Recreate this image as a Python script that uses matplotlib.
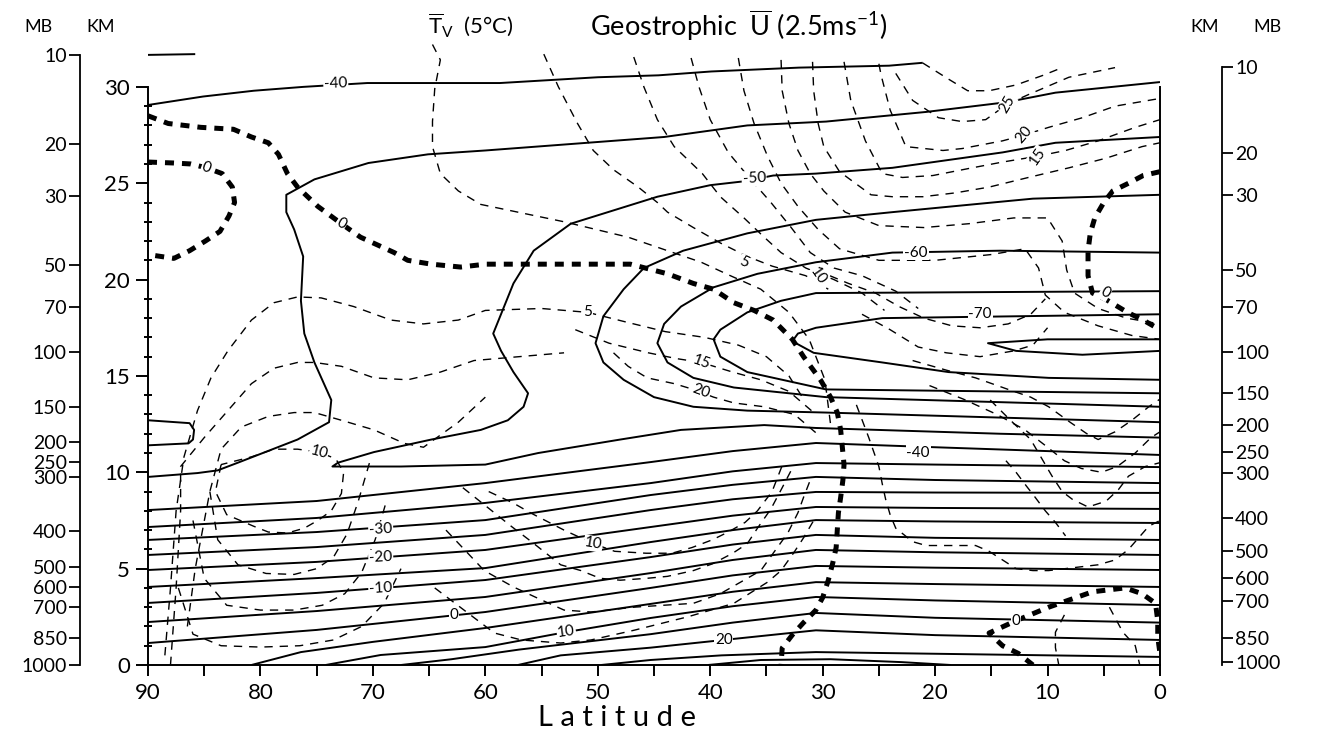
import matplotlib.pyplot as plt

plt.rcParams['font.family'] = ['Lato', 'DejaVu Sans']
plt.rcParams['mathtext.fontset'] = 'custom'
plt.rcParams['mathtext.rm'] = 'Lato'

# side pressure scales: label and height (km) where it sits
mb_labels = ['10', '20', '30', '50', '70', '100', '150', '200', '250', '300',
             '400', '500', '600', '700', '850', '1000']
mb_km_left = [31.66, 27.04, 24.34, 20.76, 18.58, 16.24, 13.39, 11.57, 10.53, 9.76,
              6.95, 5.08, 4.05, 3.01, 1.40, 0.0]
mb_km_right = [31.03, 26.57, 24.39, 20.5, 18.58, 16.24, 14.11, 12.45, 11.05, 9.96,
               7.63, 5.92, 4.51, 3.32, 1.40, 0.16]

# ---- isotherms of Tv (solid), points are (latitude, km)
t_stub = [(90, 31.66), (85.8, 31.7)]
t_top = [(90, 29.06), (85.1, 29.5), (80.6, 29.8), (76.2, 30.0), (70.5, 30.2), (58.7, 30.2),
         (50, 30.5), (44.6, 30.6), (39.9, 30.8), (32.1, 31.0), (28.1, 31.05), (24.1, 31.1),
         (21.1, 31.25)]
t_s1 = [(90, 9.76), (85.6, 9.96), (83.8, 10.1), (82.0, 10.5), (76.7, 11.7), (73.9, 12.6),
        (73.7, 13.75), (75.2, 15.7), (76.1, 17.2), (76.4, 18.9), (76.2, 21.2), (77.0, 22.6),
        (77.7, 23.5), (77.7, 24.4), (75.2, 25.2), (70.4, 26.05), (65.1, 26.5), (60, 26.7),
        (44.1, 27.4), (36.7, 28.0), (29.7, 28.2), (20.8, 28.7), (13.7, 29.2), (9.3, 29.7),
        (0, 30.25)]
t_s2 = [(0, 27.4), (9.3, 27.1), (14.0, 26.6), (23.8, 25.8), (30.6, 25.5), (34.4, 25.4),
        (37.0, 25.1), (40.0, 24.9), (44.7, 24.3), (52.4, 22.9), (55.7, 21.5), (57.5, 19.8),
        (59.3, 17.2), (58.6, 16.3), (57.5, 15.2), (56.2, 14.1), (56.6, 13.4), (58.0, 12.7),
        (60.4, 12.2), (64.8, 11.7), (69.9, 11.05), (73.1, 10.5), (73.6, 10.3), (67.5, 10.3),
        (60, 10.4), (55.3, 11.0), (48, 11.7), (42.6, 12.2), (35.2, 12.45), (30.6, 12.3),
        (14.2, 12.0), (0, 11.8)]
t_m55 = [(0, 24.4), (11.3, 24.2), (14.9, 24.0), (23.8, 23.5), (30.6, 23.1), (36.7, 22.4),
         (42.4, 21.5), (45.9, 20.6), (47.7, 19.5), (49.5, 18.1), (50.2, 16.7), (49.5, 15.7),
         (47.7, 14.8), (45.0, 13.9), (41.5, 13.4), (36.7, 13.2), (29.7, 13.1), (0, 12.6)]
t_m60 = [(0, 21.4), (14.2, 21.5), (23.8, 21.4), (30.6, 20.9), (35.8, 20.3), (39.7, 19.6),
         (42.6, 18.6), (44.1, 17.7), (44.7, 16.7), (43.8, 15.7), (41.5, 14.9), (37.9, 14.4),
         (29.7, 13.9), (0, 13.4)]
t_m65 = [(0, 19.4), (30.6, 19.3), (33.7, 18.9), (36.7, 18.3), (39.1, 17.4), (39.7, 16.9),
         (39.1, 16.0), (36.7, 15.2), (29.7, 14.3), (0, 14.1)]
t_m70 = [(0, 18.2), (24.7, 18.0), (30.6, 17.5), (32.2, 17.2), (32.7, 16.8), (30.8, 16.2),
         (24.7, 15.7), (18.8, 15.2), (9.9, 14.9), (0, 14.8)]
t_lens = [(0, 16.9), (10.0, 16.9), (15.3, 16.7), (12.8, 16.3), (6.9, 16.1), (0, 16.3)]
t_loop = [(90, 12.7), (86.3, 12.55), (85.9, 12.2), (86.0, 11.7), (86.4, 11.5), (90, 11.4)]

# tropospheric isotherms at 90, 75, 60, 45.3, 38, 30.6, 20 and 0 deg
trop_lat = [90, 75, 60, 45.3, 38, 30.6, 20, 0]
t_m40 = [8.04, 8.51, 9.44, 10.53, 11.1, 11.52, 11.3, 10.9]
t_m35 = [7.16, 7.63, 8.41, 9.44, 10.05, 10.48, 10.4, 10.27]
t_m30 = [6.49, 6.9, 7.52, 8.82, 9.35, 9.76, 9.6, 9.44]
t_m25 = [5.71, 6.12, 6.75, 8.04, 8.6, 8.98, 8.95, 8.93]
t_m20 = [4.93, 5.35, 5.97, 7.16, 7.75, 8.2, 8.15, 8.1]
t_m15 = [4.05, 4.51, 5.03, 6.38, 7.0, 7.52, 7.45, 7.37]
t_m10 = [3.22, 3.74, 4.41, 5.6, 6.25, 6.75, 6.6, 6.49]
t_m5 = [2.23, 2.8, 3.53, 4.77, 5.45, 5.97, 5.85, 5.71]
t_0 = [1.14, 1.82, 2.75, 4.0, 4.65, 5.14, 5.05, 4.93]

t_p5 = [(80.8, 0), (76.4, 0.67), (70, 1.2), (60, 1.92), (45.3, 3.17), (38, 3.8), (30.6, 4.3),
        (20, 4.2), (0, 4.05)]
t_p10 = [(74.2, 0), (69.3, 0.52), (60, 0.93), (52.8, 1.71), (45.3, 2.44), (38, 3.05),
         (30.6, 3.53), (20, 3.35), (0, 3.11)]
t_p15 = [(67.5, 0), (63, 0.3), (57, 0.8), (45.3, 1.6), (38, 2.2), (30.6, 2.7), (20, 2.45),
         (0, 2.2)]
t_p20 = [(57.1, 0), (53.3, 0.5), (45.3, 0.9), (38.8, 1.3), (30.6, 1.8), (20, 1.55), (0, 1.3)]
t_p25 = [(49.7, 0), (45.3, 0.26), (39, 0.5), (30.6, 0.67), (0, 0.42)]
t_p30 = [(40.2, 0), (35.5, 0.26), (29.3, 0.3), (23, 0.15), (18.6, 0)]

# ---- zero line of geostrophic U (heavy dashes)
u0_main = [(90, 28.5), (88.2, 28.1), (85.3, 27.9), (82.4, 27.8), (80.8, 27.4), (79.3, 27.1),
           (78.4, 26.5), (77.6, 25.5), (76.7, 24.8), (74.9, 23.8), (72.8, 22.9), (71.1, 22.2),
           (68.1, 21.4), (66.9, 21.0), (64.8, 20.8), (62.2, 20.65), (60, 20.8), (47.1, 20.8),
           (43.8, 20.3), (41.5, 19.8), (39.7, 19.5), (37.9, 18.8), (36.1, 18.4), (34.4, 17.9),
           (32.7, 16.9), (31.7, 16.0), (30.2, 14.8), (29.3, 13.9), (28.7, 13.1), (28.4, 12.2),
           (28.1, 10.4), (28.2, 9.6), (28.4, 8.7), (28.6, 7.9), (28.8, 6.1), (29.1, 5.3),
           (29.5, 4.4), (30, 3.5), (30.6, 2.85), (31.7, 2.2), (32.7, 1.56), (33.6, 0.88),
           (33.7, 0)]
u0_loop = [(90, 26.1), (87.7, 26.05), (86.2, 26.0), (84.8, 25.8), (83.4, 25.5), (82.5, 24.8),
           (82.3, 24.0), (82.8, 23.3), (83.6, 22.5), (84.9, 22.0), (86.3, 21.5), (87.7, 21.1),
           (90, 21.3)]
u0_eq_top = [(0, 25.6), (1.5, 25.4), (2.8, 25.0), (4.2, 24.6), (5.0, 24.0), (5.8, 23.2),
             (6.2, 22.4), (6.4, 21.5), (6.4, 20.2), (6.0, 19.3), (4.9, 19.0), (2.9, 18.3),
             (1.5, 17.9), (0, 17.4)]
u0_eq_low = [(11.3, 0), (12.6, 0.6), (14.0, 1.0), (15.2, 1.66), (12.8, 2.3), (9.9, 3.0),
             (6.0, 3.8), (3.1, 4.0), (1.6, 3.7), (0.4, 3.2), (0.2, 2.3), (0.2, 1.45), (0, 0.6)]

# ---- other isotachs of U (thin dashes)
u_a = [(54.8, 31.7), (53.5, 30.0), (51.8, 28.1), (50.4, 26.7), (48.6, 25.7), (46.4, 24.8),
       (44.7, 24.0), (43.8, 23.5), (41.5, 22.7), (39.1, 21.9), (36.7, 21.2), (34.5, 20.7),
       (31.5, 20.2), (29.5, 19.5)]
u_b = [(64.7, 32.2), (64.0, 31.4), (64.5, 29.9), (64.7, 28.2), (64.7, 26.9), (64.0, 25.5),
       (62.4, 24.6), (60.4, 23.9), (53.0, 23.0), (47.3, 22.2), (43.8, 21.5), (40.8, 20.9),
       (38.2, 20.2), (35.5, 19.5), (33.0, 18.3), (31.2, 16.9), (29.8, 14.8), (29.3, 12.5)]
u_c = [(46.8, 31.55), (45.9, 30.0), (44.7, 28.3), (43.2, 26.9), (40.7, 25.5), (39.1, 24.3),
       (37.0, 23.2), (35.2, 22.2), (33.7, 21.4), (31.5, 20.6), (29.0, 20.0), (26.5, 19.3),
       (24.5, 18.4)]
u_d = [(41.7, 31.5), (41.0, 30.0), (40.0, 28.3), (38.4, 26.6), (36.4, 25.2), (34.6, 24.0),
       (32.8, 22.7), (31.1, 21.4), (29.0, 20.6), (26.5, 20.2), (23.5, 19.4), (21.5, 18.5)]
u_e = [(37.5, 31.5), (37.0, 29.8), (36.1, 28.1), (34.9, 26.4), (33.7, 25.0), (32.2, 23.8),
       (30.4, 22.6), (28.5, 21.6), (25, 21.0), (20, 21.0), (15, 21.3), (12, 21.6),
       (10.8, 20.6), (10.2, 19.2), (8.5, 18.3), (5.5, 17.6), (2.5, 17.1), (0, 16.9)]
u_f = [(33.7, 31.4), (33.6, 29.8), (33.0, 28.1), (32.2, 26.7), (31.1, 25.5), (29.9, 24.6),
       (28.0, 23.5), (25, 22.8), (21, 22.7), (17, 22.9), (13, 23.2), (10, 23.2),
       (8.7, 22.0), (8.3, 20.5), (7.6, 19.3), (5.5, 18.5), (3, 18.0), (0, 17.7)]
u_g = [(30.9, 31.3), (30.8, 29.8), (30.4, 28.1), (29.9, 26.9), (28.5, 25.6), (25.7, 24.4),
       (23.8, 24.3), (21.1, 24.3), (18.2, 24.5), (15.2, 24.8), (11.7, 25.3), (8.1, 25.8),
       (4.8, 26.3), (1.6, 26.9), (0, 27.1)]
u_h = [(28.1, 31.3), (27.5, 29.3), (26.2, 27.2), (24.7, 25.5), (22.9, 25.3), (20.2, 25.4),
       (16.7, 25.8), (14.0, 26.1), (10.9, 26.4), (8.4, 26.7), (5.5, 27.2), (2.2, 27.9),
       (0, 28.3)]
u_i = [(25.0, 31.2), (24.8, 30.6), (24.0, 28.8), (22.6, 26.9), (19.3, 26.7), (17.6, 26.8),
       (14.0, 27.2), (12.1, 27.5), (9.9, 27.9), (6.9, 28.4), (4.0, 29.0), (1.0, 29.3),
       (0, 29.4)]
u_top1 = [(21.1, 31.24), (18.8, 30.4), (17.1, 29.8), (15.2, 29.8), (12.8, 30.1), (10.4, 30.6),
          (8.7, 31.0)]
u_top2 = [(23.5, 30.7), (22.0, 29.3), (19.7, 28.4), (17.6, 28.2), (15.5, 28.3), (13.6, 29.1),
          (11.7, 29.6), (8.1, 30.5), (4.0, 31.0)]

# tropical easterly jet
u_tej = [(26.5, 18.2), (24.0, 17.4), (21.5, 16.5), (19.0, 16.2), (16.0, 16.0), (13.0, 16.3),
         (11.3, 16.6), (10.0, 17.5)]
u_tej1 = [(30.6, 20.5), (27.7, 19.8), (25.3, 19.3), (23.2, 18.6), (21.0, 18.0), (18.5, 17.6),
          (16.0, 17.5), (13.5, 17.7), (11.5, 18.2), (10.2, 19.0)]
u_tej2 = [(22.0, 15.8), (19.0, 15.3), (16.4, 14.9), (13.5, 14.3), (11.5, 13.9), (9.9, 13.4),
          (8.0, 12.6), (6.5, 12.0), (5.5, 11.7), (4.0, 12.1), (2.5, 12.7), (1.0, 13.4),
          (0, 13.8)]
u_tej3 = [(20.5, 14.5), (17.5, 13.8), (14.5, 13.0), (12.0, 12.2), (10.0, 11.3), (8.5, 10.6),
          (7.0, 10.2), (5.2, 10.0), (3.8, 10.3), (2.2, 11.0), (0.8, 11.8), (0, 12.1)]

# polar westerlies
u_p1 = [(88.5, 0.5), (88.0, 4), (87.5, 8), (86.8, 10.8), (85.6, 13.2), (84.4, 14.9),
        (82.9, 16.3), (80.8, 17.9), (78.8, 18.8), (76.7, 19.1), (74.6, 19.05), (71.7, 18.6),
        (68.4, 17.9), (65.5, 17.7), (62.4, 17.9), (60, 18.4), (55, 18.5), (50.9, 18.3),
        (47.5, 17.8), (44, 17.3), (40.5, 17.0), (37.5, 16.6), (35, 16.0), (33, 15.0),
        (31.7, 13.8)]
u_p2 = [(88.0, 0), (87.5, 4), (87.1, 8), (87.1, 10.3), (85, 11.8), (82.9, 13.2), (80.8, 14.6),
        (78.8, 15.4), (76.7, 15.7), (75.2, 15.7), (72.8, 15.5), (69.9, 14.9), (66.9, 14.8),
        (64, 15.2), (61, 15.8), (57, 16.0), (53, 16.2)]
u_p3 = [(86.5, 2.0), (85.8, 5.0), (84.5, 9), (83.5, 11.2), (81.7, 12.35), (79.3, 12.9),
        (77, 13.1), (75.2, 13.1), (72.8, 12.7), (69.9, 12.2), (67.2, 11.5), (65.5, 11.3),
        (62.4, 12.6), (60, 13.9)]
u_p10 = [(83.5, 10.4), (84.0, 9.0), (83.0, 7.8), (80.6, 7.2), (79.3, 6.9), (77.6, 6.85),
         (76.1, 7.1), (74.9, 7.5), (73.7, 8.0), (72.8, 8.9), (72.6, 10.0), (73.3, 10.7),
         (74.8, 11.05), (76.7, 11.2), (78.8, 11.2), (80.8, 10.8), (83.5, 10.4)]
u_pu2 = [(84.5, 9.0), (83.8, 6.5), (82.0, 5.2), (79.5, 4.75), (77.0, 4.7), (75.0, 5.0),
         (73.5, 5.6), (72.3, 6.8), (71.3, 8.5), (70.3, 10.5)]
u_pu3 = [(86.0, 7.5), (85.0, 4.5), (83.0, 3.1), (80.0, 2.85), (77.0, 2.85), (74.5, 3.1),
         (72.5, 3.7), (71.0, 4.8), (69.8, 6.5), (68.8, 8.5)]
u_pu4 = [(87.3, 4.0), (86.0, 1.6), (83.5, 1.0), (80.0, 0.93), (76.5, 1.0), (73.5, 1.3),
         (71.0, 2.0), (69.0, 3.2), (67.5, 5.0)]

# subtropical jet
u_j20 = [(48.6, 16.2), (47.3, 15.5), (45.6, 14.9), (43.2, 14.6), (41.5, 14.3), (39.7, 13.9),
         (37.9, 13.6), (35.2, 13.4), (32.5, 13.0), (30.5, 12.0)]
u_j15 = [(52.0, 17.4), (49.0, 16.7), (45.5, 16.2), (43, 15.9), (40.8, 15.7), (38, 15.2),
         (35.5, 14.8), (33, 14.2), (31, 13.2)]
u_ju10 = [(59.7, 9.0), (57.5, 8.4), (56.0, 7.9), (53, 7.0), (50.4, 6.3), (48.5, 5.9),
          (45.7, 5.8), (43.4, 5.8), (41.6, 6.1), (39.8, 6.5), (38.4, 6.9), (36.9, 7.4),
          (35.8, 8.0), (34.5, 9.0), (33.5, 10.5)]
u_ju7 = [(62.0, 9.2), (59.2, 7.9), (57.7, 7.2), (55.9, 6.4), (53.3, 5.2), (51.5, 4.9),
         (49.8, 4.5), (48, 4.4), (45.6, 4.5), (43.8, 4.6), (41.5, 4.9), (39.8, 5.25),
         (38, 5.8), (36.7, 6.3), (35.8, 7.1), (34.6, 8.1), (33.6, 9.2), (32.8, 10.1)]
u_ju5 = [(63.5, 7.0), (60.1, 4.9), (57.5, 4.05), (55.1, 3.4), (53, 2.85), (50.6, 2.75),
         (46.8, 3.0), (41.5, 3.2), (39.1, 3.7), (37.3, 4.3), (35.5, 4.9), (34.4, 5.8),
         (33.1, 6.85), (32.2, 7.9), (31.7, 8.7), (31.1, 9.6)]
u_ju2 = [(64.5, 4.0), (59.2, 1.66), (56.8, 1.3), (53.3, 1.14), (50.6, 1.3), (46.8, 1.8),
         (42, 2.5), (37.9, 3.2), (34.9, 4.3), (33.7, 4.9), (32.6, 5.8), (31.7, 6.6),
         (30.8, 7.5)]

# tropical troposphere
u_t1 = [(27.0, 13.5), (25.9, 11.8), (25.0, 10.3), (24.7, 9.4), (24.4, 8.6), (24.0, 7.8),
        (23.5, 7.1), (22.0, 6.4), (20.8, 6.2), (19.3, 6.2), (17.9, 6.2), (16.4, 6.2),
        (15.2, 5.9), (14.0, 5.45), (12.8, 5.0), (11.3, 4.9), (9.9, 4.9), (5.5, 5.2),
        (4.0, 5.45), (2.8, 6.0), (1.9, 6.6), (1.0, 7.2), (0, 7.5)]
u_t2 = [(15.1, 13.75), (13.3, 12.7), (11.5, 11.7), (10.4, 10.6), (9.6, 9.8), (8.7, 9.0),
        (7.8, 8.6), (6.4, 8.2), (4.8, 8.5), (3.7, 9.1), (2.8, 9.8), (1.3, 10.3), (0, 10.5)]
u_t3 = [(13.7, 10.6), (12.8, 10.0), (11.9, 9.3), (11.1, 8.7), (10.2, 8.0), (9.3, 7.4),
        (8.4, 6.7)]
u_z4a = [(8.5, 2.6), (9.3, 1.7), (9.3, 0.9), (9.0, 0)]
u_z4b = [(4.5, 3.0), (3.3, 1.7), (2.2, 1.0), (1.8, 0)]

# contour labels: text, latitude, km, rotation
t_labels = [('-40', 73.3, 30.15, 2), ('-50', 36.1, 25.25, 3), ('-60', 21.7, 21.4, 0),
            ('-70', 16.0, 18.2, 0), ('-40', 21.5, 11.0, 0), ('-30', 69.3, 7.05, 3),
            ('-20', 69.3, 5.6, 3), ('-10', 69.3, 4.0, 3), ('0', 62.8, 2.6, 0),
            ('10', 52.8, 1.71, 8), ('20', 38.8, 1.3, 0)]
u_labels = [('0', 72.8, 22.9, -30), ('0', 84.8, 25.8, -20), ('0', 4.9, 19.3, -30),
            ('0', 12.8, 2.3, 0), ('5', 50.9, 18.3, 0), ('5', 37.0, 20.9, -25),
            ('10', 30.4, 20.2, -55), ('15', 40.8, 15.7, -20), ('20', 40.8, 14.2, -20),
            ('25', 13.6, 29.1, 60), ('20', 12.1, 27.5, 50), ('15', 10.9, 26.4, 55),
            ('10', 74.8, 11.05, -15), ('10', 50.4, 6.3, -10)]

fig = plt.figure(figsize=(13.17, 7.51), dpi=100)
ax = fig.add_axes([148 / 1317, 86 / 751, 1012 / 1317, 634 / 751])
ax.set_xlim(90, 0)
ax.set_ylim(0, 32.9)

solid = dict(color='black', lw=1.4, solid_capstyle='butt')
thin = dict(color='black', lw=1.0, linestyle=(0, (6, 5)))
heavy = dict(color='black', lw=3.6, linestyle=(0, (1.8, 1.6)))


def draw(pts, style):
    ax.plot([p[0] for p in pts], [p[1] for p in pts], **style)


for line in [t_stub, t_top, t_s1, t_s2, t_m55, t_m60, t_m65, t_m70, t_lens, t_loop,
             t_p5, t_p10, t_p15, t_p20, t_p25, t_p30]:
    draw(line, solid)
for zs in [t_m40, t_m35, t_m30, t_m25, t_m20, t_m15, t_m10, t_m5, t_0]:
    ax.plot(trop_lat, zs, **solid)

for line in [u_a, u_b, u_c, u_d, u_e, u_f, u_g, u_h, u_i, u_top1, u_top2,
             u_tej, u_tej1, u_tej2, u_tej3,
             u_p1, u_p2, u_p3, u_p10, u_pu2, u_pu3, u_pu4,
             u_j20, u_j15, u_ju10, u_ju7, u_ju5, u_ju2,
             u_t1, u_t2, u_t3, u_z4a, u_z4b]:
    draw(line, thin)
for line in [u0_main, u0_loop, u0_eq_top, u0_eq_low]:
    draw(line, heavy)

box = dict(fc='white', ec='none', pad=0.6)
for txt, la, km, rot in t_labels + u_labels:
    ax.text(la, km, txt, ha='center', va='center', fontsize=11, rotation=rot,
            bbox=box, zorder=5)

# frame: open at the top, ticks on both km scales
ax.spines['top'].set_visible(False)
for s in ['left', 'right']:
    ax.spines[s].set_bounds(0, 30)
    ax.spines[s].set_linewidth(1.4)
ax.spines['bottom'].set_linewidth(1.4)
ax.set_yticks(range(0, 31, 5))
ax.set_yticks(range(0, 31), minor=True)
ax.set_xticks(range(0, 91, 10))
ax.set_xticks(range(0, 91, 5), minor=True)
ax.tick_params(axis='y', which='both', left=True, right=True, labelleft=True,
               labelright=True, labelsize=16, width=1.4)
ax.tick_params(axis='y', which='major', direction='out', length=9, pad=4)
ax.tick_params(axis='y', which='minor', direction='inout', length=6)
ax.tick_params(axis='x', which='both', direction='out', length=8, width=1.4,
               labelsize=16, pad=5)

# outer pressure scales (offsets in points from the km frame)
for side, km, offset in [('left', mb_km_left, 49), ('right', mb_km_right, 44.5)]:
    tw = ax.twinx()
    tw.set_ylim(ax.get_ylim())
    for s in tw.spines.values():
        s.set_visible(False)
    sp = tw.spines[side]
    sp.set_visible(True)
    sp.set_position(('outward', offset))
    sp.set_bounds(0, km[0])
    sp.set_linewidth(1.3)
    tw.yaxis.set_ticks_position(side)
    tw.set_yticks(km, labels=mb_labels)
    tw.tick_params(axis='y', direction='out', length=8, width=1.3, labelsize=14, pad=1.5)

fig.text(38 / 1317, 1 - 27 / 751, 'MB', ha='center', va='center', fontsize=13)
fig.text(101 / 1317, 1 - 27 / 751, 'KM', ha='center', va='center', fontsize=13)
fig.text(1205 / 1317, 1 - 27 / 751, 'KM', ha='center', va='center', fontsize=13)
fig.text(1267 / 1317, 1 - 27 / 751, 'MB', ha='center', va='center', fontsize=13)
fig.text(471 / 1317, 1 - 25 / 751, r'$\overline{\mathrm{T}}_{\mathrm{V}}$  (5°C)',
         ha='center', va='center', fontsize=16)
fig.text(739 / 1317, 1 - 25 / 751, r'Geostrophic  $\overline{\mathrm{U}}$ (2.5ms$^{-1}$)',
         ha='center', va='center', fontsize=19.5)
fig.text(617 / 1317, 1 - 718 / 751, 'L a t i t u d e', ha='center', va='center',
         fontsize=21)

fig.savefig('out.png', dpi=100)
